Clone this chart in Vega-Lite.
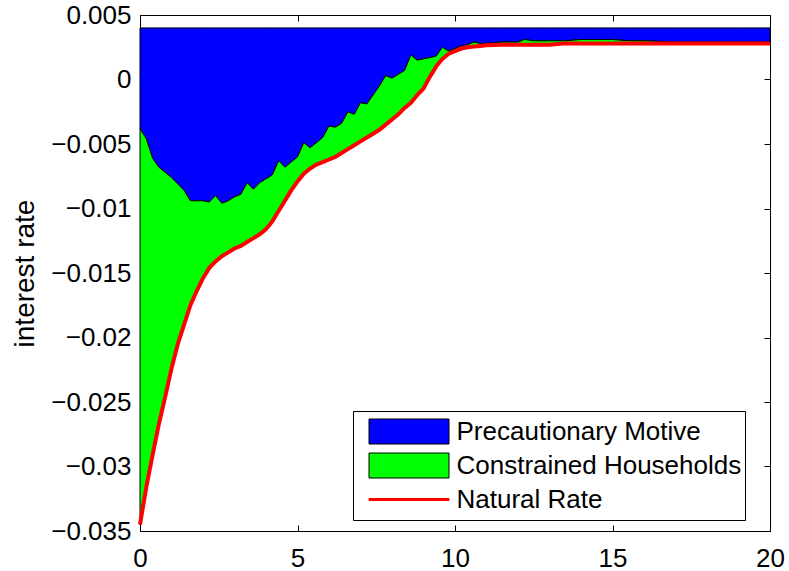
{
  "$schema": "https://vega.github.io/schema/vega-lite/v6.json",
  "autosize": {"type": "none"},
  "width": 630,
  "height": 516,
  "padding": {"left": 140, "top": 15, "right": 19, "bottom": 40},
  "background": "white",
  "config": {
    "view": {"stroke": "black", "strokeWidth": 1},
    "font": "Liberation Sans",
    "axis": {
      "labelFont": "Liberation Sans",
      "labelFontSize": 26,
      "labelColor": "black",
      "tickColor": "black",
      "tickSize": -6,
      "tickWidth": 1,
      "domainColor": "black",
      "domainWidth": 1,
      "grid": false,
      "labelFlush": false,
      "labelOverlap": false,
      "titleFont": "Liberation Sans",
      "titleFontSize": 28,
      "titleFontWeight": "normal",
      "titleColor": "black"
    },
    "axisLeft": {"labelPadding": 15, "titleX": -107, "titleY": 258, "titleAngle": -90, "titleBaseline": "alphabetic", "titleAlign": "center"},
    "axisBottom": {"labelPadding": 20}
  },
  "data": {
    "values": [
      {"t": 0, "top": 0.004, "mid": -0.0038, "nat": -0.0345},
      {"t": 0.2, "top": 0.004, "mid": -0.0046, "nat": -0.0316},
      {"t": 0.4, "top": 0.004, "mid": -0.0061, "nat": -0.0291},
      {"t": 0.6, "top": 0.004, "mid": -0.0068, "nat": -0.0267},
      {"t": 0.8, "top": 0.004, "mid": -0.0072, "nat": -0.0246},
      {"t": 1.0, "top": 0.004, "mid": -0.0076, "nat": -0.0224},
      {"t": 1.2, "top": 0.004, "mid": -0.0081, "nat": -0.0205},
      {"t": 1.4, "top": 0.004, "mid": -0.0086, "nat": -0.0190},
      {"t": 1.6, "top": 0.004, "mid": -0.0094, "nat": -0.0175},
      {"t": 1.8, "top": 0.004, "mid": -0.0094, "nat": -0.0164},
      {"t": 2.0, "top": 0.004, "mid": -0.0094, "nat": -0.0154},
      {"t": 2.2, "top": 0.004, "mid": -0.0095, "nat": -0.0146},
      {"t": 2.4, "top": 0.004, "mid": -0.0090, "nat": -0.0141},
      {"t": 2.6, "top": 0.004, "mid": -0.0096, "nat": -0.0137},
      {"t": 2.8, "top": 0.004, "mid": -0.0094, "nat": -0.0134},
      {"t": 3.0, "top": 0.004, "mid": -0.0091, "nat": -0.0131},
      {"t": 3.2, "top": 0.004, "mid": -0.0089, "nat": -0.0129},
      {"t": 3.4, "top": 0.004, "mid": -0.0080, "nat": -0.0126},
      {"t": 3.6, "top": 0.004, "mid": -0.0085, "nat": -0.0123},
      {"t": 3.8, "top": 0.004, "mid": -0.0080, "nat": -0.0120},
      {"t": 4.0, "top": 0.004, "mid": -0.0077, "nat": -0.0116},
      {"t": 4.2, "top": 0.004, "mid": -0.0074, "nat": -0.0110},
      {"t": 4.4, "top": 0.004, "mid": -0.0063, "nat": -0.0102},
      {"t": 4.6, "top": 0.004, "mid": -0.0068, "nat": -0.0094},
      {"t": 4.8, "top": 0.004, "mid": -0.0064, "nat": -0.0086},
      {"t": 5.0, "top": 0.004, "mid": -0.0060, "nat": -0.0079},
      {"t": 5.2, "top": 0.004, "mid": -0.0049, "nat": -0.0073},
      {"t": 5.4, "top": 0.004, "mid": -0.0053, "nat": -0.0069},
      {"t": 5.6, "top": 0.004, "mid": -0.0049, "nat": -0.0066},
      {"t": 5.8, "top": 0.004, "mid": -0.0045, "nat": -0.0064},
      {"t": 6.0, "top": 0.004, "mid": -0.0036, "nat": -0.0062},
      {"t": 6.2, "top": 0.004, "mid": -0.0037, "nat": -0.0060},
      {"t": 6.4, "top": 0.004, "mid": -0.0034, "nat": -0.0057},
      {"t": 6.6, "top": 0.004, "mid": -0.0025, "nat": -0.0054},
      {"t": 6.8, "top": 0.004, "mid": -0.0027, "nat": -0.0051},
      {"t": 7.0, "top": 0.004, "mid": -0.0018, "nat": -0.0048},
      {"t": 7.2, "top": 0.004, "mid": -0.0019, "nat": -0.0045},
      {"t": 7.4, "top": 0.004, "mid": -0.0012, "nat": -0.0042},
      {"t": 7.6, "top": 0.004, "mid": -0.0005, "nat": -0.0039},
      {"t": 7.8, "top": 0.004, "mid": 0.0003, "nat": -0.0035},
      {"t": 8.0, "top": 0.004, "mid": 0.0001, "nat": -0.0031},
      {"t": 8.2, "top": 0.004, "mid": 0.0004, "nat": -0.0027},
      {"t": 8.4, "top": 0.004, "mid": 0.0007, "nat": -0.0022},
      {"t": 8.6, "top": 0.004, "mid": 0.0019, "nat": -0.0018},
      {"t": 8.8, "top": 0.004, "mid": 0.0015, "nat": -0.0012},
      {"t": 9.0, "top": 0.004, "mid": 0.0016, "nat": -0.0007},
      {"t": 9.2, "top": 0.004, "mid": 0.0017, "nat": 0.0002},
      {"t": 9.4, "top": 0.004, "mid": 0.0018, "nat": 0.0010},
      {"t": 9.6, "top": 0.004, "mid": 0.0025, "nat": 0.0016},
      {"t": 9.8, "top": 0.004, "mid": 0.0022, "nat": 0.0020},
      {"t": 10.0, "top": 0.004, "mid": 0.0024, "nat": 0.0022},
      {"t": 10.2, "top": 0.004, "mid": 0.0026, "nat": 0.0024},
      {"t": 10.4, "top": 0.004, "mid": 0.0027, "nat": 0.0025},
      {"t": 10.6, "top": 0.004, "mid": 0.0029, "nat": 0.00255},
      {"t": 10.8, "top": 0.004, "mid": 0.0028, "nat": 0.0026},
      {"t": 11.0, "top": 0.004, "mid": 0.0028, "nat": 0.00265},
      {"t": 11.5, "top": 0.004, "mid": 0.0029, "nat": 0.0027},
      {"t": 12.0, "top": 0.004, "mid": 0.0029, "nat": 0.0027},
      {"t": 12.2, "top": 0.004, "mid": 0.0031, "nat": 0.0027},
      {"t": 12.5, "top": 0.004, "mid": 0.0030, "nat": 0.0027},
      {"t": 13.0, "top": 0.004, "mid": 0.0030, "nat": 0.0027},
      {"t": 13.5, "top": 0.004, "mid": 0.0030, "nat": 0.0028},
      {"t": 14.0, "top": 0.004, "mid": 0.0031, "nat": 0.0028},
      {"t": 14.5, "top": 0.004, "mid": 0.0031, "nat": 0.0028},
      {"t": 15.0, "top": 0.004, "mid": 0.0031, "nat": 0.0028},
      {"t": 15.5, "top": 0.004, "mid": 0.0030, "nat": 0.0028},
      {"t": 16.0, "top": 0.004, "mid": 0.0030, "nat": 0.0028},
      {"t": 17.0, "top": 0.004, "mid": 0.0029, "nat": 0.0028},
      {"t": 18.0, "top": 0.004, "mid": 0.0029, "nat": 0.0028},
      {"t": 19.0, "top": 0.004, "mid": 0.0029, "nat": 0.0028},
      {"t": 20.0, "top": 0.004, "mid": 0.0029, "nat": 0.0028}
    ]
  },
  "layer": [
    {
      "layer": [
        {
          "mark": {"type": "area", "fill": "#0000ff", "stroke": "black", "strokeWidth": 1},
          "encoding": {
            "x": {"field": "t", "type": "quantitative", "title": null, "scale": {"domain": [0, 20], "nice": false, "zero": false}, "axis": {"values": [0, 5, 10, 15, 20], "format": "d"}},
            "y": {"field": "top", "type": "quantitative", "title": "interest rate", "scale": {"domain": [-0.035, 0.005], "nice": false, "zero": false}, "axis": {"values": [-0.035, -0.03, -0.025, -0.02, -0.015, -0.01, -0.005, 0, 0.005], "format": "~g"}},
            "y2": {"field": "mid"}
          }
        },
        {
          "mark": {"type": "area", "fill": "#00ff00", "stroke": "black", "strokeWidth": 1},
          "encoding": {
            "x": {"field": "t", "type": "quantitative", "title": null, "scale": {"domain": [0, 20], "nice": false, "zero": false}},
            "y": {"field": "mid", "type": "quantitative", "title": "interest rate", "scale": {"domain": [-0.035, 0.005], "nice": false, "zero": false}},
            "y2": {"field": "nat"}
          }
        },
        {
          "mark": {"type": "line", "stroke": "#ff0000", "strokeWidth": 4},
          "encoding": {
            "x": {"field": "t", "type": "quantitative", "title": null, "scale": {"domain": [0, 20], "nice": false, "zero": false}},
            "y": {"field": "nat", "type": "quantitative", "title": "interest rate", "scale": {"domain": [-0.035, 0.005], "nice": false, "zero": false}}
          }
        },
        {
          "data": {"values": [{"series": "Precautionary Motive"}, {"series": "Constrained Households"}, {"series": "Natural Rate"}]},
          "mark": {"type": "point", "opacity": 0},
          "encoding": {
            "shape": {
              "field": "series", "type": "nominal",
              "scale": {"domain": ["Precautionary Motive", "Constrained Households", "Natural Rate"], "range": ["M-1,-0.3125H1V0.3125H-1Z", "M-1,-0.3125H1V0.3125H-1Z", "M-1,-0.025H1V0.025H-1Z"]},
              "legend": {
                "orient": "none", "legendX": 213, "legendY": 396, "title": null, "direction": "vertical",
                "fillColor": "white", "strokeColor": "black", "padding": 3.75,
                "symbolSize": 6400, "symbolStrokeWidth": 1, "symbolOpacity": 1, "symbolOffset": 11.75,
                "clipHeight": 33.5, "rowPadding": 0, "labelOffset": 7,
                "labelFont": "Liberation Sans", "labelFontSize": 26, "labelColor": "black", "labelLimit": 0,
                "encode": {"entries": {"width": {"value": 397}}}
              }
            },
            "fill": {
              "field": "series", "type": "nominal",
              "scale": {"domain": ["Precautionary Motive", "Constrained Households", "Natural Rate"], "range": ["#0000ff", "#00ff00", "#ff0000"]},
              "legend": {
                "orient": "none", "legendX": 213, "legendY": 396, "title": null, "direction": "vertical",
                "fillColor": "white", "strokeColor": "black", "padding": 3.75,
                "symbolSize": 6400, "symbolStrokeWidth": 1, "symbolOpacity": 1, "symbolOffset": 11.75,
                "clipHeight": 33.5, "rowPadding": 0, "labelOffset": 7,
                "labelFont": "Liberation Sans", "labelFontSize": 26, "labelColor": "black", "labelLimit": 0
              }
            },
            "stroke": {
              "field": "series", "type": "nominal",
              "scale": {"domain": ["Precautionary Motive", "Constrained Households", "Natural Rate"], "range": ["#000000", "#000000", "#ff0000"]},
              "legend": {
                "orient": "none", "legendX": 213, "legendY": 396, "title": null, "direction": "vertical",
                "fillColor": "white", "strokeColor": "black", "padding": 3.75,
                "symbolSize": 6400, "symbolStrokeWidth": 1, "symbolOpacity": 1, "symbolOffset": 11.75,
                "clipHeight": 33.5, "rowPadding": 0, "labelOffset": 7,
                "labelFont": "Liberation Sans", "labelFontSize": 26, "labelColor": "black", "labelLimit": 0
              }
            }
          }
        }
      ]
    },
    {
      "mark": {"type": "point", "opacity": 0},
      "encoding": {
        "x": {"field": "t", "type": "quantitative", "title": null, "scale": {"domain": [0, 20], "nice": false, "zero": false}, "axis": {"orient": "top", "labels": false, "domain": false, "values": [0, 5, 10, 15, 20], "title": null}},
        "y": {"field": "nat", "type": "quantitative", "title": null, "scale": {"domain": [-0.035, 0.005], "nice": false, "zero": false}, "axis": {"orient": "right", "labels": false, "domain": false, "values": [-0.035, -0.03, -0.025, -0.02, -0.015, -0.01, -0.005, 0, 0.005], "title": null}}
      }
    }
  ],
  "resolve": {"scale": {"x": "independent", "y": "independent"}, "axis": {"x": "independent", "y": "independent"}}
}
